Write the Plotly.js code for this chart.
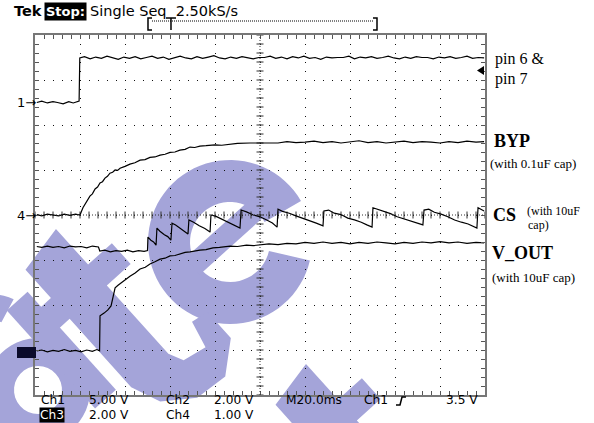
<!DOCTYPE html>
<html><head><meta charset="utf-8">
<script src="https://cdn.plot.ly/plotly-3.0.1.min.js"></script>
<style>html,body{margin:0;padding:0;background:#fff;}#chart{width:594px;height:423px;}</style>
</head><body><div id="chart"></div>
<script>
// Time in ms (20 ms/div, 10 divisions); values in screen divisions from the centre line.
const PIN67 = [[0.8,2.50],[3,2.53],[5.5,2.49],[8,2.52],[10,2.50],[12.5,2.47],[15,2.52],[17,2.49],[19.6,2.53],[19.9,3.49],[22,3.52],[24.5,3.47],[27,3.51],[29.5,3.48],[32,3.53],[34.5,3.49],[37,3.46],[39.5,3.51],[42,3.48],[44.5,3.52],[47,3.47],[49.5,3.50],[52,3.53],[54.5,3.48],[57,3.51],[59.5,3.46],[62,3.50],[64.5,3.53],[67,3.49],[69.5,3.47],[72,3.52],[74.5,3.48],[77,3.51],[79.5,3.54],[82,3.49],[84.5,3.47],[87,3.51],[89.5,3.48],[92,3.52],[94.5,3.49],[97,3.47],[99.5,3.50],[102,3.50],[104.5,3.53],[107,3.48],[109.5,3.51],[112,3.47],[114.5,3.52],[117,3.49],[119.5,3.53],[122,3.48],[124.5,3.50],[127,3.46],[129.5,3.51],[132,3.49],[134.5,3.50],[137,3.50],[139.5,3.53],[142,3.47],[144.5,3.51],[147,3.49],[149.5,3.52],[152,3.48],[154.5,3.50],[157,3.53],[159.5,3.49],[162,3.47],[164.5,3.51],[167,3.48],[169.5,3.52],[172,3.50],[174.5,3.50],[177,3.47],[179.5,3.51],[182,3.49],[184.5,3.52],[187,3.48],[189.5,3.50],[192,3.53],[194.5,3.48],[197,3.50],[199.6,3.49]];
const BYP = [[0.8,0.01],[3,-0.02],[5.5,0.02],[8,0.00],[10.5,-0.02],[13,0.02],[15.5,-0.01],[18,0.02],[20,0.00],[21.3,0.16],[22.7,0.29],[24.4,0.42],[25.5,0.47],[26.7,0.58],[27.8,0.62],[28.9,0.71],[30,0.74],[31.1,0.82],[32.2,0.86],[33.3,0.93],[34.5,0.95],[35.6,1.00],[36.7,0.99],[37.8,1.04],[40,1.08],[42.2,1.13],[44.4,1.16],[46.7,1.22],[48.9,1.23],[51.1,1.28],[53.3,1.29],[55.6,1.33],[57.8,1.35],[60,1.39],[62.2,1.40],[64.4,1.44],[66.7,1.46],[68.9,1.51],[71,1.50],[73.3,1.53],[76,1.54],[80,1.56],[83,1.55],[86.7,1.58],[90,1.59],[95.6,1.60],[100,1.60],[104.4,1.61],[108,1.60],[112,1.63],[116,1.61],[120,1.62],[124,1.64],[128,1.61],[132,1.63],[136,1.60],[140,1.62],[144,1.65],[148,1.61],[152,1.63],[156,1.60],[160,1.62],[164,1.64],[168,1.61],[172,1.63],[176,1.62],[180,1.60],[184,1.63],[188,1.61],[192,1.64],[196,1.62],[199.6,1.63]];
const CS = [[0.8,-0.70],[3,-0.72],[5.5,-0.69],[8,-0.72],[10.5,-0.70],[13,-0.73],[15.5,-0.69],[18,-0.71],[20.5,-0.70],[23,-0.73],[25.5,-0.69],[28.2,-0.71],[28.8,-0.80],[31,-0.78],[33.5,-0.82],[36,-0.79],[38.5,-0.81],[41,-0.78],[43.5,-0.82],[46,-0.79],[48.5,-0.81],[50,-0.79],
[50.2,-0.49],[51.5,-0.56],[52.7,-0.60],[53.8,-0.67],
[54.2,-0.29],[55.5,-0.36],[57.5,-0.44],[59,-0.48],[60.4,-0.56],
[60.9,-0.18],[62.5,-0.22],[64.5,-0.30],[66.5,-0.36],[68,-0.42],
[68.4,-0.11],[70.5,-0.16],[73,-0.24],[75.5,-0.30],[77.8,-0.38],
[78.2,0.00],[80.5,-0.03],[83,-0.09],[85.5,-0.14],[88,-0.20],[91.1,-0.29],
[91.6,0.11],[94,0.07],[97,0.00],[100,-0.04],[103,-0.11],[105.5,-0.18],[107.6,-0.27],
[108,0.13],[110,0.08],[113,0.04],[116,-0.02],[119,-0.07],[122,-0.13],[125,-0.18],[128,-0.24],
[128.4,0.09],[130.5,0.11],[133,0.04],[136,0.01],[139,-0.07],[142,-0.11],[145,-0.16],[147.5,-0.22],[149.8,-0.27],
[150.2,0.16],[152.5,0.12],[155,0.07],[158,0.03],[161,-0.04],[164,-0.09],[167,-0.13],[170,-0.18],[172.4,-0.22],
[172.9,0.11],[175,0.13],[177.5,0.06],[180.5,0.02],[183.5,-0.04],[186.5,-0.11],[189.5,-0.16],[192.5,-0.20],[196.4,-0.29],
[196.9,0.16],[199.6,0.09]];
const VOUT = [[0.8,-3.02],[3,-3.00],[5.5,-3.04],[8,-3.01],[10.5,-3.03],[13,-2.99],[15.5,-3.03],[18,-3.01],[20.5,-3.04],[23,-3.00],[25.5,-3.03],[27.5,-2.99],[28.7,-3.02],[28.9,-2.24],[30.7,-2.18],[32.4,-2.11],[33.8,-2.02],[34.7,-1.80],[35.6,-1.62],[36.9,-1.56],[38.7,-1.49],[40.5,-1.44],[42.2,-1.36],[44.5,-1.29],[46.7,-1.20],[49,-1.16],[51.1,-1.09],[53.3,-1.04],[55.6,-0.98],[57.8,-0.96],[60,-0.91],[62.2,-0.90],[64.4,-0.87],[66.7,-0.83],[68.9,-0.82],[71,-0.80],[73.3,-0.78],[76,-0.77],[79.1,-0.73],[82,-0.72],[86.7,-0.69],[90,-0.70],[94,-0.67],[97,-0.68],[100,-0.66],[104,-0.64],[108,-0.66],[112,-0.63],[116,-0.64],[120,-0.61],[124,-0.63],[128,-0.60],[132,-0.63],[136,-0.61],[140,-0.64],[144,-0.61],[148,-0.63],[152,-0.60],[156,-0.62],[160,-0.64],[164,-0.61],[168,-0.63],[172,-0.60],[176,-0.62],[180,-0.59],[184,-0.62],[188,-0.60],[192,-0.63],[196,-0.61],[199.6,-0.62]];

const ROW1 = ['Ch1','5.00 V','Ch2','2.00 V','M20.0ms','Ch1','3.5 V'];
const ROW2 = ['Ch3','2.00 V','Ch4','1.00 V'];
const HEADER = ['Tek','Stop:','Single Seq\u00a0\u00a02.50kS/s'];

// ---------- geometry helpers (pixel -> paper) ----------
const L=35, T=35, W=450, H=360;
function PX(x){return (x-L)/W;}
function PY(y){return (T+H-y)/H;}
function path(pts){return 'M'+pts.map(p=>PX(p[0]).toFixed(4)+','+PY(p[1]).toFixed(4)).join('L')+'Z';}
function pathOpen(pts){return 'M'+pts.map(p=>PX(p[0]).toFixed(4)+','+PY(p[1]).toFixed(4)).join('L');}
function rot(ox,oy,deg,pts){const a=deg*Math.PI/180,c=Math.cos(a),s=Math.sin(a);return pts.map(([x,y])=>[ox+x*c-y*s, oy-x*s-y*c]);}
function arc(cx,cy,r,a0,a1,n){const o=[];for(let i=0;i<=n;i++){const a=(a0+(a1-a0)*i/n)*Math.PI/180;o.push([cx+r*Math.cos(a),cy+r*Math.sin(a)]);}return o;}

const WMC='#a4a4d9';
const TH=42;
const shapes=[];
function wm(pts){shapes.push({type:'path',xref:'paper',yref:'paper',path:path(pts),fillcolor:WMC,line:{width:0},layer:'below'});}
// letter "e"
wm(rot(230,242,TH, arc(0,0,82,-12,305,70).concat(arc(0,0,40,305,-12,50))));
wm(rot(230,242,TH, [[-44,-4],[44,-4],[44,18],[-44,18]]));
// letter "t"
const tShape=[[23,48],[23,0],[55,0],[55,-28],[23,-28],[23,-120],[30,-135],[55,-140],[62,-112],[80,-115],[80,-150],[50,-175],[15,-172],[-15,-150],[-27,-120],[-27,-28],[-50,-28],[-50,0],[-27,0],[-27,38]];
wm(rot(71,280,TH, tShape));
// letter "a" (partial, lower-left corner)
wm(rot(38,390,TH, arc(0,0,52,0,360,50).concat(arc(0,0,24,360,0,30))));
wm(rot(38,390,TH, [[30,-52],[58,-52],[58,80],[30,80]]));
wm(rot(38,390,TH, arc(5,70,40,20,170,20).concat(arc(5,70,14,170,20,12))));
// second "t" at bottom
wm(rot(321,415,TH, tShape));

// centre cross (fine dots)
shapes.push({type:'line',xref:'x',yref:'paper',x0:100,x1:100,y0:0,y1:1,line:{color:'#333',width:1,dash:'1px,2px'},layer:'above'});
shapes.push({type:'line',xref:'paper',yref:'y',x0:0,x1:1,y0:0,y1:0,line:{color:'#333',width:1,dash:'1px,2px'},layer:'above'});
// header bracket and trigger position
shapes.push({type:'path',xref:'paper',yref:'paper',path:pathOpen([[152,18],[148,18],[148,30],[152,30]]),line:{color:'#000',width:1.5},layer:'above'});
shapes.push({type:'path',xref:'paper',yref:'paper',path:pathOpen([[373,18],[377,18],[377,30],[373,30]]),line:{color:'#000',width:1.5},layer:'above'});
shapes.push({type:'line',xref:'paper',yref:'paper',x0:PX(152),x1:PX(373),y0:PY(21),y1:PY(21),line:{color:'#000',width:1,dash:'1px,1px'},layer:'above'});
shapes.push({type:'path',xref:'paper',yref:'paper',path:pathOpen([[166,18],[176,18]]),line:{color:'#000',width:1.5},layer:'above'});
shapes.push({type:'path',xref:'paper',yref:'paper',path:pathOpen([[171,18],[171,30]]),line:{color:'#000',width:1.5},layer:'above'});
// trigger level arrow
shapes.push({type:'path',xref:'paper',yref:'paper',path:path([[477,70.5],[484,66],[484,75]]),fillcolor:'#000',line:{width:0},layer:'above'});
// ch3 ground marker
shapes.push({type:'rect',xref:'paper',yref:'paper',x0:PX(17),x1:PX(36),y0:PY(358),y1:PY(347),fillcolor:'#0a0a2a',line:{width:0},layer:'above'});
// trigger slope symbol
shapes.push({type:'path',xref:'paper',yref:'paper',path:pathOpen([[396,405],[400,405],[402,397],[406,397]]),line:{color:'#000',width:1.5},layer:'above'});

// ---------- texts ----------
const SANS='DejaVu Sans', SERIF='Liberation Serif';
const ann=[];
function A(text,x,y,o){o=o||{};ann.push({text:text,xref:'paper',yref:'paper',x:PX(x),y:PY(y),xanchor:o.xa||'left',yanchor:'middle',showarrow:false,borderpad:o.bp||0,bgcolor:o.bg||'rgba(0,0,0,0)',font:{family:o.f||SANS,size:o.s||13,color:o.c||'#000',weight:o.w||'normal'}});}
A(HEADER[0],13,11,{s:14.5,w:'bold'});
A(HEADER[1],65.5,11,{xa:'center',s:13,w:'bold',c:'#fff',bg:'#000',bp:1});
A(HEADER[2],89,11,{s:14.5});
A('1\u2192',37,102,{xa:'right',s:13});
A('4\u2192',37,215,{xa:'right',s:13});
const r1x=[40,88,165,213,285,363,445];
ROW1.forEach((t,i)=>A(t,r1x[i],400,{s:12.2}));
const r2x=[39,88,165,213];
ROW2.forEach((t,i)=>i===0?A(t,52,415.3,{xa:'center',s:12.2,c:'#fff',bg:'#000',bp:0}):A(t,r2x[i],415.3,{s:12.2}));
A('pin 6 &',494,59,{f:SERIF,s:16});
A('pin 7',494,79,{f:SERIF,s:16});
A('BYP',493,141,{f:SERIF,s:18,w:'bold'});
A('(with 0.1uF cap)',489,163,{f:SERIF,s:13});
A('CS',492,215,{f:SERIF,s:18,w:'bold'});
A('(with 10uF',526,211,{f:SERIF,s:12});
A('cap)',527,225,{f:SERIF,s:12});
A('V_OUT',491,253,{f:SERIF,s:18,w:'bold'});
A('(with 10uF cap)',491,277,{f:SERIF,s:13});

// ---------- graticule ticks on the centre cross ----------
const cx=[],cy=[];for(let t=0;t<=200;t+=4){cx.push(t);cy.push(0);}
const vx=[],vy=[];for(let k=-20;k<=20;k++){vx.push(100);vy.push(k/5);}

function tr(arr){return {type:'scatter',mode:'lines',x:arr.map(p=>p[0]),y:arr.map(p=>p[1]),line:{color:'#000',width:1.2},hoverinfo:'skip'};}
const data=[
 {type:'scatter',mode:'markers',x:cx,y:cy,marker:{symbol:'line-ns',size:5,line:{width:1,color:'#333'}},hoverinfo:'skip'},
 {type:'scatter',mode:'markers',x:vx,y:vy,marker:{symbol:'line-ew',size:5,line:{width:1,color:'#333'}},hoverinfo:'skip'},
 tr(PIN67),tr(BYP),tr(CS),tr(VOUT)
];
const ax={showgrid:true,gridcolor:'#111',griddash:'1px,8px',gridwidth:1,zeroline:false,showticklabels:false,ticks:'inside',ticklen:4,tickwidth:1,tickcolor:'#555',showline:true,linecolor:'#777',linewidth:2,mirror:'ticks',fixedrange:true};
const layout={width:594,height:423,margin:{l:L,r:594-L-W,t:T,b:423-T-H,pad:0},paper_bgcolor:'#fff',plot_bgcolor:'#fff',showlegend:false,
 xaxis:Object.assign({},ax,{range:[0,200],tick0:0,dtick:20,minor:{dtick:4,ticks:'inside',ticklen:4,tickcolor:'#555',showgrid:false}}),
 yaxis:Object.assign({},ax,{range:[-4,4],tick0:0,dtick:1,minor:{dtick:0.2,ticks:'inside',ticklen:4,tickcolor:'#555',showgrid:false}}),
 shapes:shapes,annotations:ann};
Plotly.newPlot('chart',data,layout,{staticPlot:true,displayModeBar:false});
</script></body></html>
